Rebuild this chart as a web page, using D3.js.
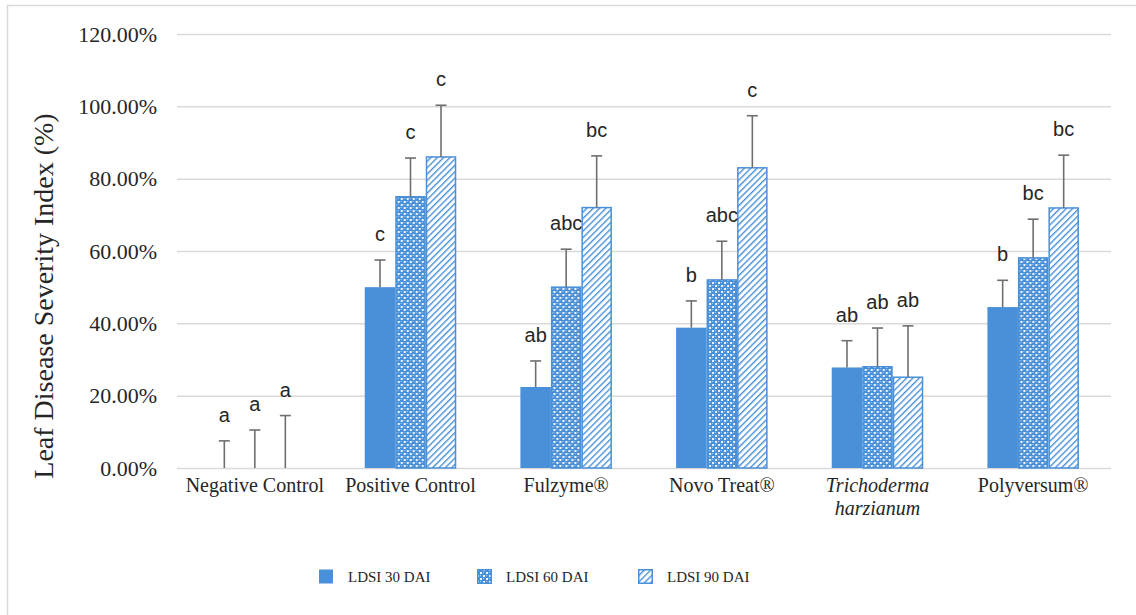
<!DOCTYPE html>
<html>
<head>
<meta charset="utf-8">
<script src="https://cdn.jsdelivr.net/npm/d3@7"></script>
<style>
  html, body { margin: 0; padding: 0; background: #fff; }
  svg { display: block; }
</style>
</head>
<body>
<svg id="chart" width="1136" height="615"></svg>
<script>
// Treatments along the x axis
const categories = ["Negative Control", "Positive Control", "Fulzyme®", "Novo Treat®", "Trichoderma harzianum", "Polyversum®"];
// Assessment dates (series)
const series = ["LDSI 30 DAI", "LDSI 60 DAI", "LDSI 90 DAI"];

// Mean leaf disease severity index per treatment (fraction)
const ldsi30 = [0.000, 0.500, 0.224, 0.388, 0.278, 0.445];
const ldsi60 = [0.000, 0.750, 0.500, 0.520, 0.280, 0.581];
const ldsi90 = [0.000, 0.860, 0.720, 0.830, 0.251, 0.719];

// Upper error (standard error) per treatment
const err30 = [0.075, 0.075, 0.072, 0.074, 0.074, 0.074];
const err60 = [0.105, 0.107, 0.105, 0.107, 0.107, 0.107];
const err90 = [0.145, 0.143, 0.143, 0.144, 0.142, 0.146];

// Significance letters
const letters30 = ["a", "c", "ab", "b", "ab", "b"];
const letters60 = ["a", "c", "abc", "abc", "ab", "bc"];
const letters90 = ["a", "c", "bc", "c", "ab", "bc"];

// Y axis ticks
const yTicks = [0, 0.2, 0.4, 0.6, 0.8, 1.0, 1.2];

const values = [ldsi30, ldsi60, ldsi90];
const errors = [err30, err60, err90];
const letters = [letters30, letters60, letters90];

const svg = d3.select("#chart");
const BLUE = "#4a90d9";

// Fill patterns
const defs = svg.append("defs");
const cross = defs.append("pattern")
  .attr("id", "pat60").attr("patternUnits", "userSpaceOnUse")
  .attr("width", 6).attr("height", 6);
cross.append("rect").attr("width", 6).attr("height", 6).attr("fill", BLUE);
cross.append("rect").attr("x", 0).attr("y", 0).attr("width", 2).attr("height", 2).attr("fill", "#ffffff").attr("opacity", 0.9);
cross.append("rect").attr("x", 3).attr("y", 3).attr("width", 2).attr("height", 2).attr("fill", "#ffffff").attr("opacity", 0.9);
cross.append("rect").attr("x", 3).attr("y", 0).attr("width", 1).attr("height", 1).attr("fill", "#dbe8f7").attr("opacity", 0.7);
cross.append("rect").attr("x", 0).attr("y", 3).attr("width", 1).attr("height", 1).attr("fill", "#dbe8f7").attr("opacity", 0.7);

const hatch = defs.append("pattern")
  .attr("id", "pat90").attr("patternUnits", "userSpaceOnUse")
  .attr("width", 4.5).attr("height", 4.5)
  .attr("patternTransform", "rotate(45)");
hatch.append("rect").attr("width", 4.5).attr("height", 4.5).attr("fill", "#ffffff");
hatch.append("rect").attr("x", 0).attr("y", 0).attr("width", 1.4).attr("height", 4.5).attr("fill", BLUE);

const fills = [BLUE, "url(#pat60)", "url(#pat90)"];

// Outer frame
svg.append("line").attr("x1", 7.5).attr("x2", 7.5).attr("y1", 5).attr("y2", 615)
  .attr("stroke", "#d9d9d9").attr("stroke-width", 1.5);
svg.append("line").attr("x1", 7).attr("x2", 1136).attr("y1", 5.5).attr("y2", 5.5)
  .attr("stroke", "#d9d9d9").attr("stroke-width", 1.5);

// Scales
const x0 = d3.scaleBand().domain(categories).range([177, 1111])
  .paddingInner(0.412).paddingOuter(0.206);
const x1 = d3.scaleBand().domain(series).range([0, x0.bandwidth()]);
const y = d3.scaleLinear().domain([0, 1.2]).range([468, 34]);

// Gridlines and tick labels
const yAxis = d3.axisLeft(y).tickValues(yTicks).tickFormat(d3.format(".2%"))
  .tickSize(-(1111 - 177)).tickPadding(20);
const gy = svg.append("g").attr("transform", "translate(177,0)").call(yAxis);
gy.select(".domain").remove();
gy.selectAll(".tick line").attr("stroke", "#d9d9d9").attr("stroke-width", 1.5);
gy.selectAll(".tick text")
  .attr("font-family", "'Liberation Serif', 'Times New Roman', serif")
  .attr("font-size", 22).attr("fill", "#262626");

// Bars
const groups = svg.append("g").selectAll("g").data(categories).join("g")
  .attr("transform", d => `translate(${x0(d)},0)`);

series.forEach((s, si) => {
  groups.append("rect")
    .attr("x", x1(s) + (si === 0 ? 0 : 0.75))
    .attr("width", x1.bandwidth() - (si === 0 ? 0 : 1.5))
    .attr("y", (d, i) => y(values[si][i]))
    .attr("height", (d, i) => y(0) - y(values[si][i]))
    .attr("fill", fills[si])
    .attr("stroke", si === 0 ? "none" : BLUE)
    .attr("stroke-width", 1.5)
    .attr("display", (d, i) => values[si][i] > 0 ? null : "none");
});

// Error bars (upper only) and significance letters
series.forEach((s, si) => {
  const cx = x1(s) + x1.bandwidth() / 2;
  groups.append("line")
    .attr("x1", cx).attr("x2", cx)
    .attr("y1", (d, i) => y(values[si][i]))
    .attr("y2", (d, i) => y(values[si][i] + errors[si][i]))
    .attr("stroke", "#6f6f6f").attr("stroke-width", 1.6);
  groups.append("line")
    .attr("x1", cx - 5.5).attr("x2", cx + 5.5)
    .attr("y1", (d, i) => y(values[si][i] + errors[si][i]))
    .attr("y2", (d, i) => y(values[si][i] + errors[si][i]))
    .attr("stroke", "#6f6f6f").attr("stroke-width", 1.6);
  groups.append("text")
    .attr("x", cx)
    .attr("y", (d, i) => y(values[si][i] + errors[si][i]) - 19)
    .attr("text-anchor", "middle")
    .attr("font-family", "'Liberation Sans', Arial, sans-serif")
    .attr("font-size", 20).attr("fill", "#262626")
    .text((d, i) => letters[si][i]);
});

// Category labels
const serif = "'Liberation Serif', 'Times New Roman', serif";
const catText = svg.append("g").selectAll("text").data(categories).join("text")
  .attr("x", d => x0(d) + x0.bandwidth() / 2)
  .attr("y", 492)
  .attr("text-anchor", "middle")
  .attr("font-family", serif).attr("font-size", 20).attr("fill", "#262626")
  .attr("font-style", d => d === "Trichoderma harzianum" ? "italic" : null);
catText.each(function(d) {
  const t = d3.select(this);
  if (d === "Trichoderma harzianum") {
    const cx = x0(d) + x0.bandwidth() / 2;
    t.append("tspan").attr("x", cx).attr("dy", 0).text("Trichoderma");
    t.append("tspan").attr("x", cx).attr("dy", 23).text("harzianum");
  } else {
    t.text(d);
  }
});

// Y axis title
svg.append("text")
  .attr("transform", "translate(53,296) rotate(-90)")
  .attr("text-anchor", "middle")
  .attr("font-family", serif).attr("font-size", 28).attr("fill", "#262626")
  .text("Leaf Disease Severity Index (%)");

// Legend
const legendX = d3.scaleOrdinal().domain(series).range([319, 477, 638]);
const lg = svg.append("g").selectAll("g").data(series).join("g")
  .attr("transform", d => `translate(${legendX(d)},569)`);
lg.append("rect")
  .attr("x", (d, i) => i === 0 ? 0 : 0.75).attr("y", (d, i) => i === 0 ? 0.5 : 0.75)
  .attr("width", (d, i) => i === 0 ? 14 : 13.5).attr("height", (d, i) => i === 0 ? 14 : 13.5)
  .attr("fill", (d, i) => fills[i])
  .attr("stroke", (d, i) => i === 0 ? "none" : BLUE).attr("stroke-width", 1.5);
lg.append("text")
  .attr("x", 29).attr("y", 13)
  .attr("font-family", serif).attr("font-size", 15).attr("fill", "#262626")
  .text(d => d);
</script>
</body>
</html>
